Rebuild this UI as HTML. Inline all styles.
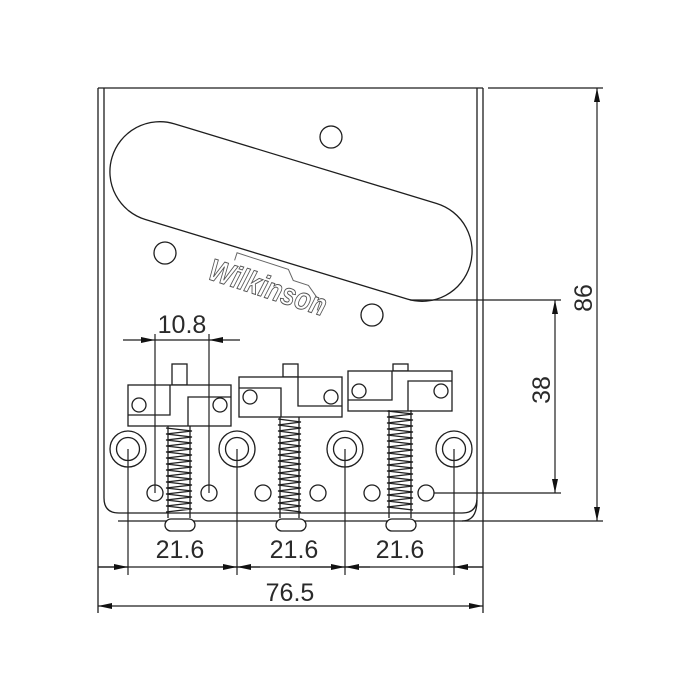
<!DOCTYPE html>
<html><head><meta charset="utf-8"><style>
html,body{margin:0;padding:0;background:#fff}
svg{display:block}
text{font-family:"Liberation Sans",sans-serif;fill:#2a2a2a}
</style></head><body>
<svg width="700" height="700" viewBox="0 0 700 700" xmlns="http://www.w3.org/2000/svg">
<defs>
<marker id="a" viewBox="0 0 14 6" refX="14" refY="3" markerWidth="14" markerHeight="6" markerUnits="userSpaceOnUse" orient="auto-start-reverse"><path d="M0,0 L14,3 L0,6 z" fill="#111"/></marker>
</defs>
<g fill="none" stroke="#1e1e1e" stroke-width="1.3">
<line x1="98" y1="88" x2="98" y2="613"/>
<line x1="483" y1="88" x2="483" y2="613"/>
<line x1="98" y1="88" x2="483" y2="88"/>
<line x1="488" y1="88" x2="603" y2="88"/>
<path d="M104,88 L104,498 Q104,513 119,513 L462,513 Q477,513 477,498 L477,88"/>
<line x1="118" y1="521" x2="603" y2="521"/>
<path d="M477,500 Q477,521 462,521" />
<rect x="104" y="161.5" width="374" height="100" rx="50" transform="rotate(16.9 291 211.5)"/>
<circle cx="331" cy="137" r="11"/>
<circle cx="165" cy="253" r="11"/>
<circle cx="372" cy="315" r="11"/>
<circle cx="128" cy="449" r="18"/><circle cx="128" cy="449" r="11.5"/>
<circle cx="237" cy="449" r="18"/><circle cx="237" cy="449" r="11.5"/>
<circle cx="345" cy="449" r="18"/><circle cx="345" cy="449" r="11.5"/>
<circle cx="454" cy="449" r="18"/><circle cx="454" cy="449" r="11.5"/>
<circle cx="155" cy="493" r="8"/><circle cx="209" cy="493" r="8"/>
<circle cx="263" cy="493" r="8"/><circle cx="318" cy="493" r="8"/>
<circle cx="372" cy="493" r="8"/><circle cx="426" cy="493" r="8"/>
<rect x="172" y="364" width="15" height="21"/>
<rect x="128" y="385" width="103" height="41" fill="#fff"/>
<polyline points="128,415 170,415 170,385"/>
<polyline points="188,426 188,397 231,397"/>
<circle cx="139" cy="405" r="7"/><circle cx="220" cy="405" r="7"/>
<rect x="283" y="364" width="15" height="13"/>
<rect x="239" y="377" width="103" height="40" fill="#fff"/>
<polyline points="239,388 281,388 281,417"/>
<polyline points="298,377 298,406 342,406"/>
<circle cx="250" cy="397" r="7"/><circle cx="331" cy="397" r="7"/>
<rect x="393" y="364" width="15" height="7"/>
<rect x="348" y="371" width="104" height="40" fill="#fff"/>
<polyline points="348,400 392,400 392,371"/>
<polyline points="408,411 408,381 452,381"/>
<circle cx="359" cy="391" r="7"/><circle cx="441" cy="391" r="7"/>
<line x1="168" y1="426" x2="168" y2="518"/><line x1="190" y1="426" x2="190" y2="518"/>
<path d="M166,428 L192,431 L166,434 L192,437 L166,440 L192,443 L166,446 L192,449 L166,452 L192,455 L166,458 L192,461 L166,464 L192,467 L166,470 L192,473 L166,476 L192,479 L166,482 L192,485 L166,488 L192,491 L166,494 L192,497 L166,500 L192,503 L166,506 L192,509 L166,512"/>
<path d="M278,419 L301,422 L278,425 L301,428 L278,431 L301,434 L278,437 L301,440 L278,443 L301,446 L278,449 L301,452 L278,455 L301,458 L278,461 L301,464 L278,467 L301,470 L278,473 L301,476 L278,479 L301,482 L278,485 L301,488 L278,491 L301,494 L278,497 L301,500 L278,503 L301,506 L278,509 L301,512"/>
<line x1="280" y1="417" x2="280" y2="518"/><line x1="299" y1="417" x2="299" y2="518"/>
<path d="M387,411 L413,414 L387,417 L413,420 L387,423 L413,426 L387,429 L413,432 L387,435 L413,438 L387,441 L413,444 L387,447 L413,450 L387,453 L413,456 L387,459 L413,462 L387,465 L413,468 L387,471 L413,474 L387,477 L413,480 L387,483 L413,486 L387,489 L413,492 L387,495 L413,498 L387,501 L413,504 L387,507 L413,510"/>
<line x1="389" y1="410" x2="389" y2="518"/><line x1="411" y1="410" x2="411" y2="518"/>
<rect x="165" y="519" width="30" height="12" rx="6" fill="#fff"/>
<rect x="276" y="519" width="30" height="12" rx="6" fill="#fff"/>
<rect x="386" y="519" width="30" height="12" rx="6" fill="#fff"/>
</g>
<g transform="rotate(18 268 287)">
<path d="M228,272 L228,264 L282,264 L290,273 L306,273 L322,285 L322,294" fill="none" stroke="#666" stroke-width="1"/>
<text x="268" y="298" text-anchor="middle" font-size="31" font-weight="bold" font-style="italic" textLength="122" lengthAdjust="spacingAndGlyphs" style="fill:#fff;stroke:#555;stroke-width:1">Wilkinson</text>
</g>
<g fill="none" stroke="#1e1e1e" stroke-width="1.2">
<line x1="155" y1="334" x2="155" y2="493"/>
<line x1="209" y1="334" x2="209" y2="493"/>
<line x1="123" y1="340" x2="155" y2="340" marker-end="url(#a)"/>
<line x1="155" y1="340" x2="209" y2="340"/>
<line x1="240" y1="340" x2="209" y2="340" marker-end="url(#a)"/>
<line x1="128" y1="449" x2="128" y2="575"/>
<line x1="237" y1="449" x2="237" y2="575"/>
<line x1="345" y1="449" x2="345" y2="575"/>
<line x1="454" y1="449" x2="454" y2="575"/>
<line x1="98" y1="567" x2="483" y2="567"/>
<line x1="98" y1="567" x2="128" y2="567" marker-end="url(#a)"/>
<line x1="180" y1="567" x2="237" y2="567" marker-end="url(#a)"/>
<line x1="260" y1="567" x2="237" y2="567" marker-end="url(#a)"/>
<line x1="300" y1="567" x2="345" y2="567" marker-end="url(#a)"/>
<line x1="370" y1="567" x2="345" y2="567" marker-end="url(#a)"/>
<line x1="483" y1="567" x2="454" y2="567" marker-end="url(#a)"/>
<line x1="120" y1="606" x2="98" y2="606" marker-end="url(#a)"/>
<line x1="120" y1="606" x2="460" y2="606"/>
<line x1="460" y1="606" x2="483" y2="606" marker-end="url(#a)"/>
<line x1="410" y1="300" x2="561" y2="300"/>
<line x1="434" y1="493" x2="561" y2="493"/>
<line x1="555" y1="400" x2="555" y2="300" marker-end="url(#a)"/>
<line x1="555" y1="400" x2="555" y2="493" marker-end="url(#a)"/>
<line x1="597" y1="300" x2="597" y2="88" marker-end="url(#a)"/>
<line x1="597" y1="300" x2="597" y2="521" marker-end="url(#a)"/>
</g>
<text x="182" y="333" font-size="25" text-anchor="middle">10.8</text>
<text x="180" y="558" font-size="25" text-anchor="middle">21.6</text>
<text x="294" y="558" font-size="25" text-anchor="middle">21.6</text>
<text x="400" y="558" font-size="25" text-anchor="middle">21.6</text>
<text x="290" y="601" font-size="25" text-anchor="middle">76.5</text>
<text x="0" y="0" font-size="25" text-anchor="middle" transform="translate(550 390) rotate(-90)">38</text>
<text x="0" y="0" font-size="25" text-anchor="middle" transform="translate(592 298) rotate(-90)">86</text>
</svg>
</body></html>
